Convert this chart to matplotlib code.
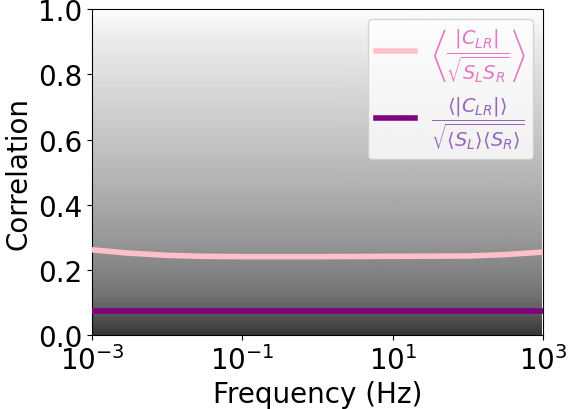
import numpy as np
import matplotlib
matplotlib.use("Agg")
import matplotlib.pyplot as plt

# Background density of the many gray curves (read as gray level vs correlation)
bg_corr = [0.0, 0.03, 0.07, 0.12, 0.2, 0.3, 0.4, 0.5, 0.6, 0.7, 0.8, 0.9, 0.97, 1.0]
bg_gray = [0.22, 0.28, 0.36, 0.45, 0.52, 0.60, 0.66, 0.72, 0.77, 0.82, 0.87, 0.92, 0.97, 1.0]

# Mean of normalized correlation (pink)
freq_pts = [1e-3, 3e-3, 1e-2, 3e-2, 1e-1, 1e0, 1e1, 1e2, 3e2, 1e3]
mean_norm = [0.262, 0.252, 0.245, 0.242, 0.241, 0.241, 0.242, 0.243, 0.247, 0.255]
# Normalized mean correlation (purple)
norm_mean = [0.075, 0.075, 0.075, 0.075, 0.075, 0.075, 0.075, 0.075, 0.075, 0.075]

plt.rcParams['font.size'] = 20
fig = plt.figure(figsize=(5.68, 4.10), dpi=100)
ax = fig.add_axes([0.162, 0.18, 0.794, 0.795])

yy = np.linspace(0, 1, 400)
g = np.interp(yy, bg_corr, bg_gray)
img = np.repeat(g[:, None], 2, axis=1)
ax.imshow(img, cmap='gray', vmin=0, vmax=1, aspect='auto', origin='lower',
          extent=[1e-3, 1e3, 0, 1], interpolation='bilinear', zorder=0)

l1, = ax.plot(freq_pts, mean_norm, color='pink', lw=4, zorder=3,
              label=r'$\left\langle\dfrac{|C_{LR}|}{\sqrt{S_L S_R}}\right\rangle$')
l2, = ax.plot(freq_pts, norm_mean, color='purple', lw=4, zorder=3,
              label=r'$\dfrac{\langle|C_{LR}|\rangle}{\sqrt{\langle S_L\rangle\langle S_R\rangle}}$')
ax.set_xscale('log')
ax.set_xlim(1e-3, 1e3)
ax.set_ylim(0, 1)
ax.set_xticks([1e-3, 1e-1, 1e1, 1e3])
ax.minorticks_off()
ax.set_xlabel('Frequency (Hz)')
ax.set_ylabel('Correlation')
leg = ax.legend(loc='upper right', fontsize=14, handlelength=2.0)
leg.get_texts()[0].set_color('#e377c2')
leg.get_texts()[1].set_color('#9467bd')
fig.savefig('out.png', dpi=100)
